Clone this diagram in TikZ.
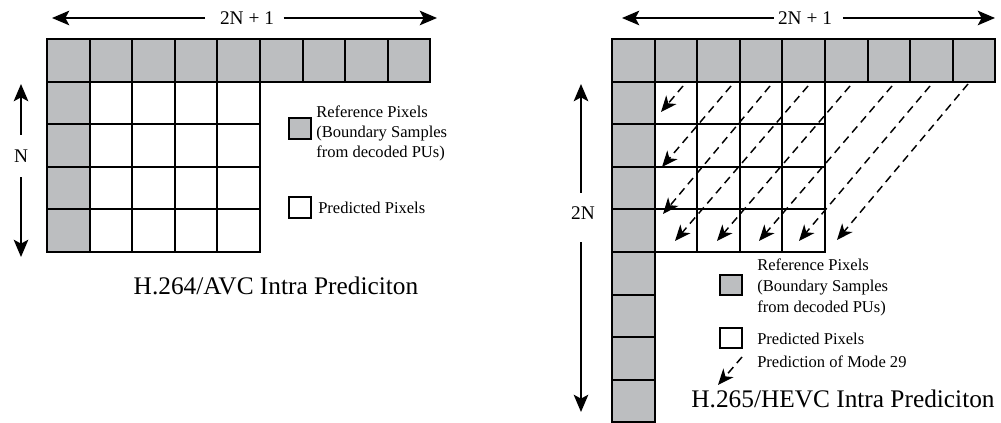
\documentclass[tikz,border=0pt]{standalone}
\usepackage{fontspec}
\setmainfont{Liberation Serif}
\usetikzlibrary{arrows.meta}
\definecolor{refgray}{RGB}{188,190,192}
\begin{document}
\begin{tikzpicture}[x=0.75pt,y=-0.75pt,
  cell/.style={draw, line width=1.4pt, minimum size=31.95pt, inner sep=0pt, outer sep=0pt},
  refcell/.style={cell, fill=refgray},
  predcell/.style={cell, fill=white},
  dimarrow/.style={line width=1.1pt, -{Stealth[length=13pt,width=11pt,inset=3pt]}},
  predarrow/.style={line width=1.1pt, dash pattern=on 6pt off 4pt, -{Stealth[length=12pt,width=10pt,inset=3.5pt]}},
  dimlabel/.style={font=\fontsize{14.5}{17}\selectfont, inner sep=0pt},
  legtext/.style={font=\fontsize{12.4}{15}\selectfont, inner sep=0pt, align=left},
  titletext/.style={font=\fontsize{19}{22}\selectfont, inner sep=0pt},
  legbox/.style={draw, line width=1.4pt, minimum width=16.5pt, minimum height=15.5pt, inner sep=0pt}
]
\useasboundingbox (0,0) rectangle (1001,423);
\def\cs{42.6}
% ---------------- Left: H.264 ----------------
\foreach \i in {0,...,8}
  \node[refcell] (LT\i) at ({47+\cs*(\i+0.5)},{39+\cs*0.5}) {};
\foreach \j in {1,...,4}
  \node[refcell] (LL\j) at ({47+\cs*0.5},{39+\cs*(\j+0.5)}) {};
\foreach \i in {1,...,4}
  \foreach \j in {1,...,4}
    \node[predcell] (LP\i-\j) at ({47+\cs*(\i+0.5)},{39+\cs*(\j+0.5)}) {};

% top dimension
\node[dimlabel] (Ltop) at (247,18) {2N + 1};
\coordinate (La1) at (52,18);
\coordinate (La2) at (437,18);
\draw[dimarrow, shorten <=11pt] (Ltop.west) -- (La1);
\draw[dimarrow, shorten <=7pt] (Ltop.east) -- (La2);
% left dimension
\node[dimlabel] (Lside) at (21,156) {N};
\coordinate (Lv1) at (21,84);
\coordinate (Lv2) at (21,257);
\draw[dimarrow, shorten <=11pt] (Lside.north) -- (Lv1);
\draw[dimarrow, shorten <=11pt] (Lside.south) -- (Lv2);

% legend
\node[legbox, fill=refgray] (Lrefbox) at (300,128.5) {};
\node[legtext, anchor=north west] (Lreftxt) at (316,105.5) {Reference Pixels\\(Boundary Samples\\from decoded PUs)};
\node[legbox, fill=white] (Lpredbox) at (300,207.5) {};
\node[legtext, anchor=west] (Lpredtxt) at (318,208) {Predicted Pixels};
\node[titletext, anchor=base] (Ltitle) at (276,295) {H.264/AVC Intra Prediciton};

% ---------------- Right: H.265 ----------------
\foreach \i in {0,...,8}
  \node[refcell] (RT\i) at ({612+\cs*(\i+0.5)},{39+\cs*0.5}) {};
\foreach \j in {1,...,8}
  \node[refcell] (RL\j) at ({612+\cs*0.5},{39+\cs*(\j+0.5)}) {};
\foreach \i in {1,...,4}
  \foreach \j in {1,...,4}
    \node[predcell] (RP\i-\j) at ({612+\cs*(\i+0.5)},{39+\cs*(\j+0.5)}) {};

% top dimension
\node[dimlabel] (Rtop) at (805,18) {2N + 1};
\coordinate (Ra1) at (622,18);
\coordinate (Ra2) at (995,18);
\draw[dimarrow, shorten <=3pt] (Rtop.west) -- (Ra1);
\draw[dimarrow, shorten <=8pt] (Rtop.east) -- (Ra2);
% left dimension
\node[dimlabel] (Rside) at (583,213) {2N};
\coordinate (Rv1) at (581,84);
\coordinate (Rv2) at (581,412);
\draw[dimarrow, shorten <=10pt] (Rside.north -| Rv1) -- (Rv1);
\draw[dimarrow, shorten <=17pt] (Rside.south -| Rv2) -- (Rv2);

% prediction arrows (mode 29)
\coordinate (s1) at (683,86);  \coordinate (e1) at (661,112);
\coordinate (s2) at (731,86);  \coordinate (e2) at (662,167);
\coordinate (s3) at (770,86);  \coordinate (e3) at (663,214);
\coordinate (s4) at (808,86);  \coordinate (e4) at (675,241);
\coordinate (s5) at (850,86);  \coordinate (e5) at (717,241);
\coordinate (s6) at (892,86);  \coordinate (e6) at (759,241);
\coordinate (s7) at (930,86);  \coordinate (e7) at (799,241);
\coordinate (s8) at (968,84);  \coordinate (e8) at (837,240);
\foreach \k in {1,...,8}
  \draw[predarrow] (s\k) -- (e\k);

% legend
\node[legbox, fill=refgray] (Rrefbox) at (731,285) {};
\node[legtext, anchor=north west, font=\fontsize{12.4}{15.75}\selectfont] (Rreftxt) at (757,258.5) {Reference Pixels\\(Boundary Samples\\from decoded PUs)};
\node[legbox, fill=white] (Rpredbox) at (731,338) {};
\node[legtext, anchor=west] (Rpredtxt) at (757,339) {Predicted Pixels};
\coordinate (Rms) at (742,357);
\coordinate (Rme) at (718,385);
\draw[predarrow] (Rms) -- (Rme);
\node[legtext, anchor=west] (Rmodetxt) at (757,362) {Prediction of Mode 29};
\node[titletext, anchor=base] (Rtitle) at (843,408) {H.265/HEVC Intra Prediciton};
\end{tikzpicture}
\end{document}
